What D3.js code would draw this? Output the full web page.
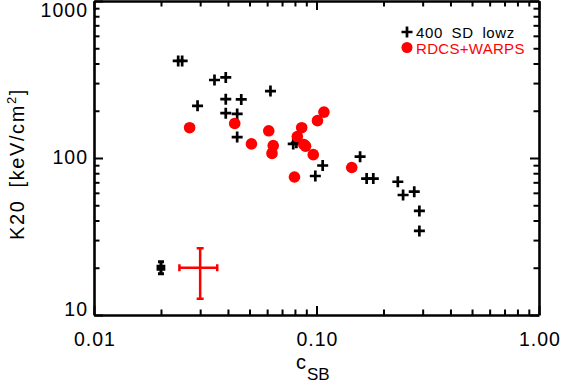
<!DOCTYPE html>
<html><head><meta charset="utf-8">
<script src="https://cdn.jsdelivr.net/npm/d3@7"></script>
<style>
body{margin:0;background:#fff}
svg{display:block}
text{font-family:"Liberation Sans",Arial,Helvetica,sans-serif}
</style>
</head><body>
<svg id="chart" width="561" height="382"></svg>
<script>
// ---- data ----
const sdX = [0.0239,0.0249,0.0348,0.0391,0.0292,0.0391,0.0459,0.0391,0.0440,0.0440,0.0621,0.0786,0.0812,0.1066,0.0988,0.157,0.168,0.180,0.232,0.245,0.275,0.290,0.290];
const sdY = [415,415,314,326,215,237,236,193,191,136,267,123,125,89.6,76.8,102,74,74,70.6,58.1,61,46,34.3];
const rwX = [0.0269,0.0429,0.0510,0.0610,0.0639,0.0631,0.0858,0.0820,0.0877,0.0893,0.0967,0.101,0.108,0.0796,0.144];
const rwY = [156,166,123,149,120,107,156,137,122,119,105,173,196,75.7,87];
// representative error bars: [400 SD lowz, RDCS+WARPS]
const errX = [0.02, 0.03];
const errXlo = [0.0194, 0.0242];
const errXhi = [0.0206, 0.0358];
const errY = [20, 20];
const errYlo = [18.3, 12.7];
const errYhi = [21.8, 26.6];
const xTickValues = [0.01, 0.1, 1];
const xTickLabels = ["0.01", "0.10", "1.00"];
const yTickValues = [10, 100, 1000];
const yTickLabels = ["10", "100", "1000"];
const legendLabels = ["400 SD lowz", "RDCS+WARPS"];

// ---- layout ----
const L = 94, R = 539, T = 1, B = 315;
const svg = d3.select("#chart");
const x = d3.scaleLog().domain([0.01, 1]).range([L, R]);
const y = d3.scaleLog().domain([10, 1000]).range([B, T]);

const minor = (dom) => {
  const out = [];
  for (let d = dom[0]; d < dom[1] * 0.999; d *= 10)
    for (let k = 2; k <= 9; k++) out.push(d * k);
  return out;
};
const xMinor = minor([0.01, 1]);
const yMinor = minor([10, 1000]);

const MAJ = 9, MIN = 5.5;
function addAxis(gen, tr, vals, size, domain) {
  const g = svg.append("g").attr("transform", tr)
    .call(gen.tickValues(vals).tickSize(-size).tickSizeOuter(0).tickFormat(""));
  g.selectAll(".tick line").attr("stroke", "#000").attr("stroke-width", 2);
  if (domain) g.select(".domain").attr("stroke", "#000").attr("stroke-width", 2.6);
  else g.select(".domain").remove();
}
addAxis(d3.axisBottom(x), `translate(0,${B})`, xMinor, MIN, false);
addAxis(d3.axisBottom(x), `translate(0,${B})`, xTickValues, MAJ, true);
addAxis(d3.axisTop(x), `translate(0,${T})`, xMinor, MIN, false);
addAxis(d3.axisTop(x), `translate(0,${T})`, xTickValues, MAJ, true);
addAxis(d3.axisLeft(y), `translate(${L},0)`, yMinor, MIN, false);
addAxis(d3.axisLeft(y), `translate(${L},0)`, yTickValues, MAJ, true);
addAxis(d3.axisRight(y), `translate(${R},0)`, yMinor, MIN, false);
addAxis(d3.axisRight(y), `translate(${R},0)`, yTickValues, MAJ, true);

// tick labels
svg.append("g").selectAll("text").data(xTickValues).join("text")
  .attr("x", d => x(d) + 1).attr("y", 346)
  .attr("text-anchor", "middle").attr("font-size", 19.5).attr("letter-spacing", 1)
  .text((d, i) => xTickLabels[i]);
svg.append("g").selectAll("text").data(yTickValues).join("text")
  .attr("x", 88).attr("y", d => Math.min(Math.max(y(d) + 5.5, 16.5), 316))
  .attr("text-anchor", "end").attr("font-size", 19.5).attr("letter-spacing", 1)
  .text((d, i) => yTickLabels[i]);

// axis titles
const yl = svg.append("text")
  .attr("transform", "translate(24,164) rotate(-90)")
  .attr("text-anchor", "middle").attr("font-size", 20).attr("letter-spacing", 1.6)
  .attr("word-spacing", 5);
yl.append("tspan").text("K20 [keV/cm");
yl.append("tspan").attr("font-size", 13).attr("dy", -8).text("2");
yl.append("tspan").attr("dy", 8).text("]");

const xl = svg.append("text").attr("x", 296).attr("y", 369).attr("font-size", 20);
xl.append("tspan").text("c");
xl.append("tspan").attr("font-size", 17).attr("dy", 10.5).attr("dx", 1).text("SB");

// data marks
const cross = "M-5.5,0H5.5M0,-5.5V5.5";
svg.append("g").selectAll("path").data(sdX).join("path")
  .attr("d", cross)
  .attr("transform", (d, i) => `translate(${x(d)},${y(sdY[i])})`)
  .attr("stroke", "#000").attr("stroke-width", 2.7).attr("fill", "none");
svg.append("g").selectAll("circle").data(rwX).join("circle")
  .attr("cx", d => x(d)).attr("cy", (d, i) => y(rwY[i])).attr("r", 5.8)
  .attr("fill", "#ff0000");

// error bars
const errColors = ["#000", "#ff0000"];
const errW = [3, 2.5];
const capX = [3, 3.5], capY = [3, 3.5];
errX.forEach((cx, i) => {
  const g = svg.append("g").attr("stroke", errColors[i]).attr("stroke-width", errW[i]).attr("fill", "none");
  const px = x(cx), py = y(errY[i]);
  const x0 = x(errXlo[i]), x1 = x(errXhi[i]), y0 = y(errYlo[i]), y1 = y(errYhi[i]);
  g.append("path").attr("d",
    `M${x0},${py}H${x1}M${px},${y0}V${y1}` +
    `M${x0},${py - capY[i]}V${py + capY[i]}M${x1},${py - capY[i]}V${py + capY[i]}` +
    `M${px - capX[i]},${y0}H${px + capX[i]}M${px - capX[i]},${y1}H${px + capX[i]}`);
});

// legend
const lg = svg.append("g");
lg.append("path").attr("d", cross).attr("transform", "translate(407,32)")
  .attr("stroke", "#000").attr("stroke-width", 2.7);
lg.append("circle").attr("cx", 407).attr("cy", 47.5).attr("r", 5.5).attr("fill", "#ff0000");
lg.append("text").attr("x", 416).attr("y", 37.5).attr("font-size", 15)
  .attr("letter-spacing", 0.6).attr("word-spacing", 4).attr("fill", "#000").text(legendLabels[0]);
lg.append("text").attr("x", 416).attr("y", 53.5).attr("font-size", 15)
  .attr("letter-spacing", 0.3).attr("fill", "#ff0000").text(legendLabels[1]);
</script>
</body></html>
